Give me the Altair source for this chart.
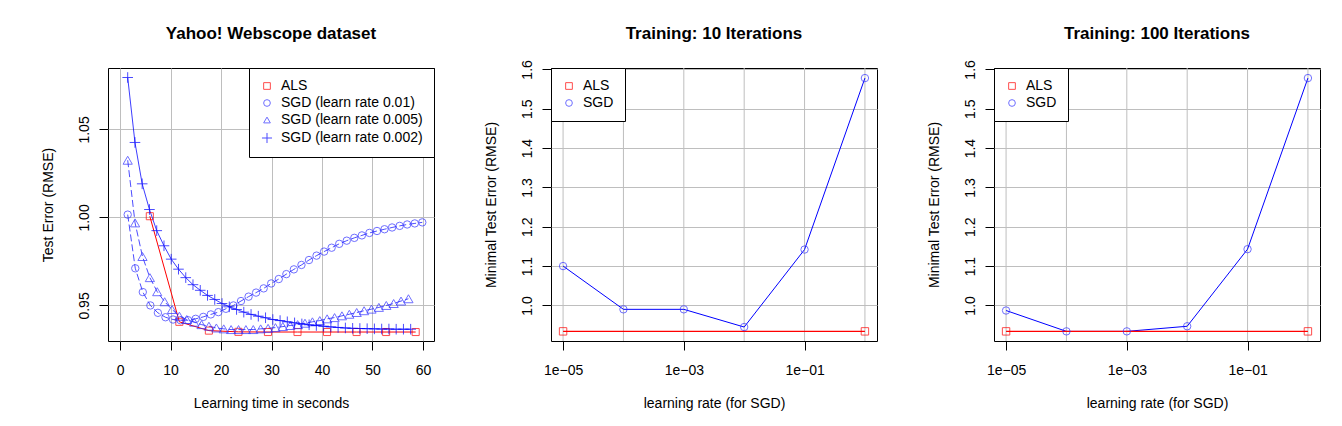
import altair as alt
import pandas as pd

FONT = "Liberation Sans"
GRID = "#bebebe"

# ---------------- Panel 1: Yahoo! Webscope dataset ----------------
series_names = ["ALS", "SGD (learn rate 0.01)", "SGD (learn rate 0.005)", "SGD (learn rate 0.002)"]

als_time = [5.90, 11.75, 17.60, 23.45, 29.30, 35.15, 41.00, 46.85, 52.70, 58.55]
als_rmse = [1.0007, 0.9407, 0.9357, 0.9350, 0.9349, 0.9349, 0.9349, 0.9349, 0.9349, 0.9349]

sgd01_time = [1.52, 3.02, 4.51, 6.01, 7.50, 9.00, 10.50, 11.99, 13.49, 14.98,
              16.48, 17.98, 19.47, 20.97, 22.46, 23.96, 25.46, 26.95, 28.45, 29.94,
              31.44, 32.94, 34.43, 35.93, 37.42, 38.92, 40.42, 41.91, 43.41, 44.90,
              46.40, 47.90, 49.39, 50.89, 52.38, 53.88, 55.38, 56.87, 58.37, 59.86]
sgd01_rmse = [1.0016, 0.9711, 0.9576, 0.9500, 0.9458, 0.9433, 0.9420, 0.9416, 0.9416, 0.9424,
              0.9435, 0.9449, 0.9462, 0.9481, 0.9500, 0.9525, 0.9550, 0.9573, 0.9597, 0.9625,
              0.9650, 0.9678, 0.9705, 0.9730, 0.9758, 0.9783, 0.9806, 0.9828, 0.9850, 0.9868,
              0.9884, 0.9898, 0.9912, 0.9923, 0.9933, 0.9943, 0.9952, 0.9960, 0.9966, 0.9972]

sgd005_time = [1.52, 2.98, 4.45, 5.91, 7.37, 8.84, 10.30, 11.76, 13.22, 14.69,
               16.15, 17.61, 19.08, 20.54, 22.00, 23.47, 24.93, 26.39, 27.85, 29.32,
               30.78, 32.24, 33.71, 35.17, 36.63, 38.10, 39.56, 41.02, 42.49, 43.95,
               45.41, 46.87, 48.34, 49.80, 51.26, 52.73, 54.19, 55.65, 57.12]
sgd005_rmse = [1.0325, 0.9969, 0.9778, 0.9658, 0.9578, 0.9521, 0.9477, 0.9439, 0.9420, 0.9405,
               0.9391, 0.9382, 0.9372, 0.9367, 0.9363, 0.9363, 0.9363, 0.9363, 0.9367, 0.9370,
               0.9374, 0.9380, 0.9386, 0.9391, 0.9399, 0.9407, 0.9414, 0.9424, 0.9431, 0.9441,
               0.9450, 0.9460, 0.9470, 0.9479, 0.9489, 0.9500, 0.9511, 0.9525, 0.9538]

sgd002_time = [1.52, 2.96, 4.39, 5.83, 7.27, 8.71, 10.14, 11.58, 13.02, 14.45,
               15.89, 17.33, 18.76, 20.20, 21.64, 23.08, 24.51, 25.95, 27.39, 28.82,
               30.26, 31.70, 33.13, 34.57, 36.01, 37.45, 38.88, 40.32, 41.76, 43.19,
               44.63, 46.07, 47.50, 48.94, 50.38, 51.82, 53.25, 54.69, 56.13, 57.56]
sgd002_rmse = [1.0795, 1.0426, 1.0191, 1.0045, 0.9925, 0.9839, 0.9763, 0.9706, 0.9658, 0.9618,
               0.9586, 0.9557, 0.9534, 0.9511, 0.9492, 0.9477, 0.9462, 0.9449, 0.9439, 0.9430,
               0.9420, 0.9414, 0.9407, 0.9401, 0.9395, 0.9390, 0.9386, 0.9382, 0.9378, 0.9375,
               0.9372, 0.9370, 0.9369, 0.9368, 0.9367, 0.9366, 0.9366, 0.9365, 0.9365, 0.9365]

time_ticks = [0, 10, 20, 30, 40, 50, 60]
rmse_ticks = [0.95, 1.00, 1.05]

# ---------------- Panels 2 & 3: learning rate ----------------
learn_rates = [1e-5, 1e-4, 1e-3, 1e-2, 1e-1, 1.0]
sgd_10_iter = [1.100, 0.990, 0.990, 0.945, 1.142, 1.578]
sgd_100_iter = [0.987, 0.934, 0.934, 0.947, 1.143, 1.578]
als_rates = [1e-5, 1.0]
als_10_iter = [0.934, 0.934]
als_100_iter = [0.934, 0.934]
rate_ticks = [1e-5, 1e-3, 1e-1]
rate_grid = [1e-5, 1e-4, 1e-3, 1e-2, 1e-1, 1.0]
min_rmse_ticks = [1.0, 1.1, 1.2, 1.3, 1.4, 1.5, 1.6]

# ---------------- build tables ----------------
rows = []
for name, ts, vs in zip(series_names,
                        [als_time, sgd01_time, sgd005_time, sgd002_time],
                        [als_rmse, sgd01_rmse, sgd005_rmse, sgd002_rmse]):
    for t, v in zip(ts, vs):
        rows.append({"series": name, "time": t, "rmse": v})
df1 = pd.DataFrame(rows)


def rate_table(sgd_vals, als_vals):
    r = []
    for lr, v in zip(learn_rates, sgd_vals):
        r.append({"method": "SGD", "rate": lr, "rmse": v})
    for lr, v in zip(als_rates, als_vals):
        r.append({"method": "ALS", "rate": lr, "rmse": v})
    return pd.DataFrame(r)


W, H = 326, 273


def y_axis(values, fmt, title):
    return alt.Axis(values=values, format=fmt, title=title, labelAngle=270,
                    labelAlign="center", labelBaseline="alphabetic", tickSize=9,
                    labelPadding=11, minExtent=32, maxExtent=32, titlePadding=21,
                    domain=False, grid=True, gridColor=GRID, gridWidth=1,
                    tickColor="black", tickWidth=1, labelFont=FONT, labelFontSize=14,
                    labelColor="black", titleFont=FONT, titleFontSize=14,
                    titleFontWeight="normal", titleColor="black",
                    labelOverlap=False, labelFlush=False)


def x_axis(values, title, grid, fmt=None, label_expr=None):
    kw = dict(values=values, title=title, tickSize=9, labelPadding=13,
              minExtent=31, maxExtent=31, titlePadding=24, domain=False,
              grid=grid, gridColor=GRID, gridWidth=1, tickColor="black", tickWidth=1,
              labelFont=FONT, labelFontSize=14, labelColor="black", titleFont=FONT,
              titleFontSize=14, titleFontWeight="normal", titleColor="black",
              labelOverlap=False, labelFlush=False, labelAngle=0)
    if fmt is not None:
        kw["format"] = fmt
    if label_expr is not None:
        kw["labelExpr"] = label_expr
    return alt.Axis(**kw)


def legend(orient):
    return alt.Legend(title=None, orient=orient, offset=0, strokeColor="black",
                      fillColor="white", padding=11, rowPadding=3, labelFont=FONT,
                      labelFontSize=14, labelColor="black", labelOffset=7,
                      symbolSize=45, symbolStrokeWidth=1, labelLimit=300)


def title(text, offset):
    return alt.TitleParams(text, font=FONT, fontSize=17, fontWeight="bold",
                           anchor="middle", frame="group", offset=offset,
                           baseline="alphabetic", color="black")


# ---------------- Panel 1 ----------------
xs1 = alt.Scale(domain=[-2.38, 62.18], nice=False, zero=False)
ys1 = alt.Scale(domain=[0.9298, 1.0849], nice=False, zero=False)
xa1 = x_axis(time_ticks, "Learning time in seconds", True, fmt="d")
ya1 = y_axis(rmse_ticks, ".2f", "Test Error (RMSE)")
base1 = alt.Chart(df1)

line_styles = {
    "ALS": dict(color="#ff0000", strokeWidth=1),
    "SGD (learn rate 0.01)": dict(color="#0000ff", strokeWidth=1, strokeDash=[7, 3], opacity=0.7),
    "SGD (learn rate 0.005)": dict(color="#0000ff", strokeWidth=1, strokeDash=[7, 3], opacity=0.7),
    "SGD (learn rate 0.002)": dict(color="#0000ff", strokeWidth=0.9, opacity=0.85),
}
point_sizes = {"ALS": 50, "SGD (learn rate 0.01)": 55,
               "SGD (learn rate 0.005)": 85, "SGD (learn rate 0.002)": 50}
color1 = alt.Color("series:N", scale=alt.Scale(domain=series_names,
                                               range=["#ff0000", "#3333ff", "#3333ff", "#0000ff"]),
                   legend=legend("top-right"))
shape1 = alt.Shape("series:N", scale=alt.Scale(domain=series_names,
                                               range=["square", "circle", "triangle-up",
                                                      "M-1.5,0L1.5,0M0,-1.5L0,1.5"]),
                   legend=legend("top-right"))

lines1 = []
points1 = []
for name in series_names:
    sub = base1.transform_filter(alt.datum.series == name)
    lines1.append(
        sub.mark_line(**line_styles[name])
        .encode(x=alt.X("time:Q", scale=xs1, axis=xa1),
                y=alt.Y("rmse:Q", scale=ys1, axis=ya1))
    )
    points1.append(
        sub.mark_point(filled=False, strokeWidth=1, size=point_sizes[name])
        .encode(x=alt.X("time:Q", scale=xs1, axis=xa1),
                y=alt.Y("rmse:Q", scale=ys1, axis=ya1),
                color=color1, shape=shape1)
    )

panel1 = alt.layer(*lines1, *points1).properties(
    width=W, height=H, title=title("Yahoo! Webscope dataset", 11.5))


# ---------------- Panels 2 & 3 ----------------
xs2 = alt.Scale(type="log", domain=[10 ** -5.2, 10 ** 0.2], nice=False)
ys2 = alt.Scale(domain=[0.9095, 1.6036], nice=False, zero=False)
rate_label = ("datum.value < 0.00005 ? '1e\u221205' : "
              "(datum.value < 0.005 ? '1e\u221203' : '1e\u221201')")
xa2 = x_axis(rate_ticks, "learning rate (for SGD)", False, label_expr=rate_label)
ya2 = y_axis(min_rmse_ticks, ".1f", "Minimal Test Error (RMSE)")


def rate_panel(sgd_vals, als_vals, ttl):
    df = rate_table(sgd_vals, als_vals)
    base = alt.Chart(df)
    grid = alt.Chart(pd.DataFrame({"rate": rate_grid})).mark_rule(
        color=GRID, strokeWidth=1).encode(x=alt.X("rate:Q", scale=xs2, axis=xa2))
    sgd_line = base.transform_filter(alt.datum.method == "SGD").mark_line(
        color="#0000ff", strokeWidth=1).encode(
        x=alt.X("rate:Q", scale=xs2, axis=xa2), y=alt.Y("rmse:Q", scale=ys2, axis=ya2))
    als_line = base.transform_filter(alt.datum.method == "ALS").mark_line(
        color="#ff0000", strokeWidth=1.3).encode(
        x=alt.X("rate:Q", scale=xs2, axis=xa2), y=alt.Y("rmse:Q", scale=ys2, axis=ya2))
    pts = base.mark_point(filled=False, strokeWidth=1, size=55).encode(
        x=alt.X("rate:Q", scale=xs2, axis=xa2),
        y=alt.Y("rmse:Q", scale=ys2, axis=ya2),
        color=alt.Color("method:N", scale=alt.Scale(domain=["ALS", "SGD"],
                                                    range=["#ff0000", "#3333ff"]),
                        legend=legend("top-left")),
        shape=alt.Shape("method:N", scale=alt.Scale(domain=["ALS", "SGD"],
                                                    range=["square", "circle"]),
                        legend=legend("top-left")),
    )
    return alt.layer(grid, sgd_line, als_line, pts).properties(
        width=W, height=H, title=title(ttl, 3.5))


panel2 = rate_panel(sgd_10_iter, als_10_iter, "Training: 10 Iterations")
panel3 = rate_panel(sgd_100_iter, als_100_iter, "Training: 100 Iterations")

chart = alt.hconcat(panel1, panel2, panel3, spacing=117, bounds="flush").resolve_scale(
    color="independent", shape="independent", x="independent", y="independent"
).properties(
    padding={"left": 32, "top": 16, "right": 5, "bottom": 5}, background="white"
).configure_view(stroke="black", strokeWidth=1, fill="white")

chart.save("out.html", embed_options={"renderer": "svg", "actions": False})
